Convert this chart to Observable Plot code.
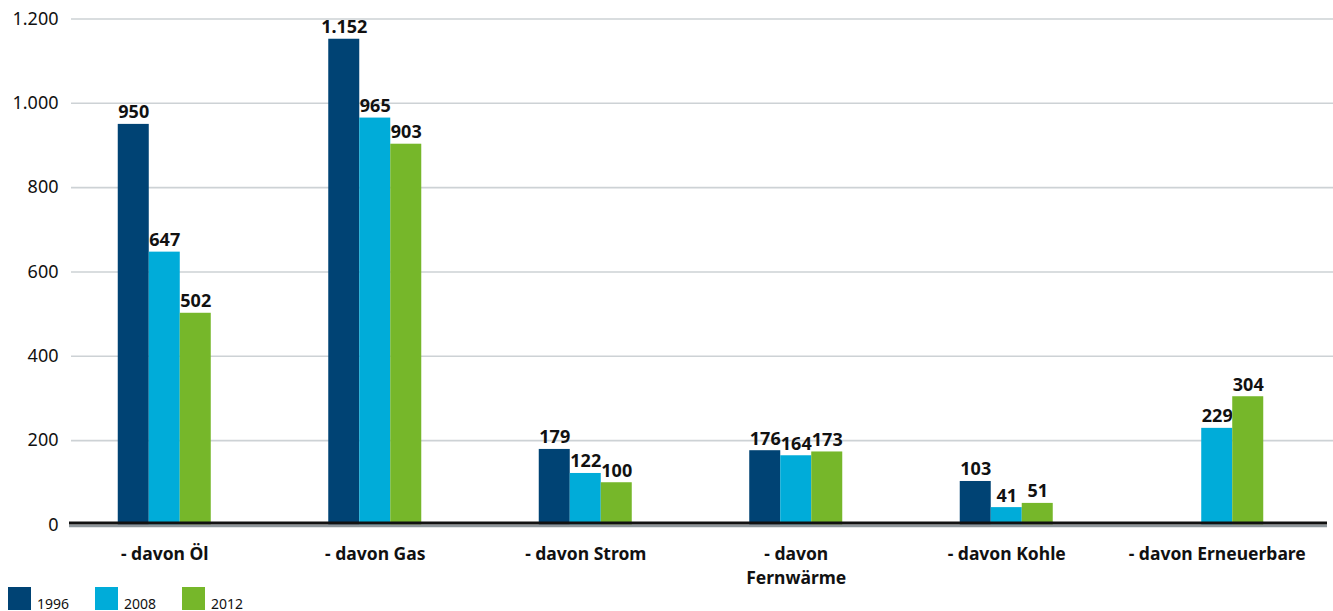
<!DOCTYPE html>
<html>
<head>
<meta charset="utf-8">
<script src="https://cdn.jsdelivr.net/npm/d3@7"></script>
<script src="https://cdn.jsdelivr.net/npm/@observablehq/plot@0.6"></script>
<style>
  html, body { margin: 0; padding: 0; background: #fff; overflow: hidden; }
  body { font-family: "Noto Sans", sans-serif; color: #111; }
  #chart svg { display: block; }
  #legend { display: flex; align-items: flex-start; padding-left: 8px; height: 25px; }
  .item { display: flex; align-items: flex-start; margin-right: 26px; }
  .sw { width: 23px; height: 23px; margin-right: 6px; }
  .lab { font-size: 14px; line-height: 14px; padding-top: 10px; }
</style>
</head>
<body>
<div id="chart"></div>
<div id="legend"></div>
<script>
// Endenergieverbrauch nach Energieträgern
const categories = ["- davon Öl", "- davon Gas", "- davon Strom", "- davon\nFernwärme", "- davon Kohle", "- davon Erneuerbare"];
const years = ["1996", "2008", "2012"];
const values1996 = [950, 1152, 179, 176, 103, null];
const values2008 = [647, 965, 122, 164, 41, 229];
const values2012 = [502, 903, 100, 173, 51, 304];
const yTicks = [0, 200, 400, 600, 800, 1000, 1200];
const colors = ["#004374", "#00acd9", "#76b72a"];

const series = [values1996, values2008, values2012];
const rows = [];
categories.forEach((c, i) => years.forEach((y, k) => {
  const v = series[k][i];
  if (v != null) rows.push({category: c, year: y, value: v});
}));

const de = d3.formatLocale({decimal: ",", thousands: ".", grouping: [3], currency: ["", " €"]});
const fmt = de.format(",d");

const barWidth = 31;        // width of one bar in px
const font = "'Noto Sans', sans-serif";

const marks = [
  Plot.ruleY(yTicks.filter(d => d > 0), {stroke: "#cdd2d5", strokeWidth: 1.6, insetLeft: 12, insetRight: -11}),
];
years.forEach((y, k) => {
  const subset = rows.filter(d => d.year === y);
  marks.push(Plot.barY(subset, {x: "category", y: "value", fill: colors[k], dx: (k - 1) * barWidth}));
  marks.push(Plot.text(subset, {
    x: "category", y: "value", text: d => fmt(d.value), dx: (k - 1) * barWidth, dy: -6,
    lineAnchor: "bottom", fontSize: 18, fontWeight: "bold", fill: "#111", fontFamily: font
  }));
});
marks.push(
  Plot.ruleY([0], {stroke: "#8e969b", strokeWidth: 2.5, dy: 1, insetLeft: 10, insetRight: -5}),
  Plot.ruleY([0], {stroke: "#111", strokeWidth: 3, dy: -2, insetLeft: 10, insetRight: -5}),
  Plot.axisY({ticks: yTicks, tickFormat: fmt, tickSize: 0, tickPadding: 1, fontSize: 18, fill: "#111", fontFamily: font}),
  Plot.axisX({tickSize: 0, tickPadding: 18.5, fontSize: 17.5, fontWeight: "bold", fill: "#111", lineHeight: 1.37, fontFamily: font})
);

const chart = Plot.plot({
  width: 1333,
  height: 587,
  marginLeft: 59,
  marginRight: 11,
  marginTop: 18.5,
  marginBottom: 62.6,
  style: {fontFamily: font, background: "#fff", overflow: "visible"},
  x: {domain: categories, paddingInner: 0.8527, paddingOuter: 0.4264, round: false, label: null},
  y: {domain: [0, 1200], label: null},
  marks
});
document.getElementById("chart").appendChild(chart);

const legend = document.getElementById("legend");
years.forEach((y, k) => {
  const item = document.createElement("div");
  item.className = "item";
  item.innerHTML = `<div class="sw" style="background:${colors[k]}"></div><span class="lab">${y}</span>`;
  legend.appendChild(item);
});
</script>
</body>
</html>
